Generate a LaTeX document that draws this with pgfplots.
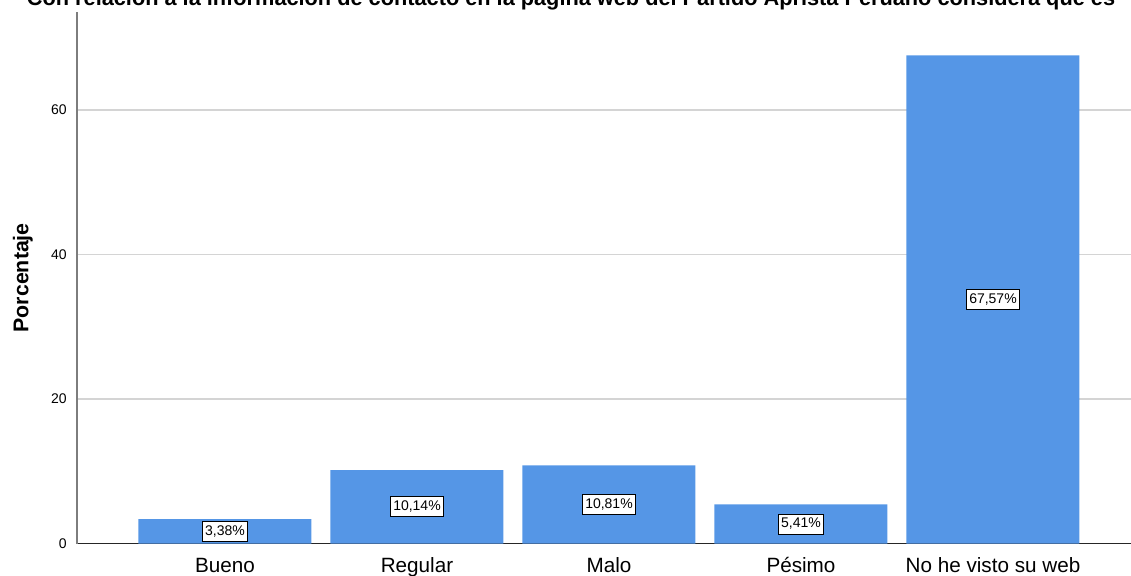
\documentclass[border=0pt]{standalone}
\usepackage{pgfplots}
\pgfplotsset{compat=1.18}
\usepackage{pgfplotstable}
\usepackage{fontspec}
\setmainfont{Liberation Sans}
\definecolor{barblue}{RGB}{85,150,230}
\definecolor{gridgray}{RGB}{212,212,212}
\definecolor{axisgray}{RGB}{125,125,125}
\pgfplotstableread{
x y
0 3.38
1 10.14
2 10.81
3 5.41
4 67.57
}\datatable
\begin{document}
\begin{tikzpicture}
\path[use as bounding box] (-57.75pt,-23.625pt) rectangle (790.5pt,407.625pt);
\clip (-57.75pt,-23.625pt) rectangle (790.5pt,407.625pt);
\begin{axis}[
  at={(0pt,0pt)}, anchor=south west,
  scale only axis, width=790.5pt, height=398.625pt,
  xmin=-0.7708, xmax=4.7188, ymin=0, ymax=73.56,
  axis x line*=bottom, axis y line*=left,
  axis line style={-},
  x axis line style={black!85, line width=0.9pt},
  y axis line style={axisgray, line width=1.1pt},
  ytick={0,20,40,60}, ymajorgrids,
  grid style={gridgray, line width=1pt},
  major tick length=0pt,
  xtick={0,1,2,3,4},
  xticklabels={Bueno,Regular,Malo,Pésimo,No he visto su web},
  xticklabel style={font=\fontsize{15.5}{18}\selectfont, anchor=base, inner sep=0pt, yshift=-21.4pt},
  yticklabel style={font=\fontsize{10.5}{12}\selectfont, anchor=east, inner sep=0pt, xshift=-7.5pt},
  /pgf/number format/assume math mode=true,
  ylabel={Porcentaje},
  ylabel style={font=\bfseries\fontsize{16}{19}\selectfont, at={(axis description cs:-0.0461,0.5)}, anchor=base},
  every axis title shift=0pt,
  title={Con relación a la información de contacto en la página web del Partido Aprista Peruano considera que es},
  title style={font=\bfseries\fontsize{16.3}{19}\selectfont, at={(axis description cs:0.4687,1.0117)}, anchor=base, inner sep=0pt},
]
\addplot[ybar, bar width=129.75pt, fill=barblue, draw=none] table[x=x,y=y] {\datatable};
\addplot[draw=none, mark=none, y filter/.expression={y/2}, point meta=explicit,
  nodes near coords={\pgfmathprintnumber[fixed,fixed zerofill,precision=2,use comma]{\pgfplotspointmeta}\%},
  nodes near coords style={anchor=center, fill=white, draw=black, line width=0.6pt, font=\fontsize{10.5}{12}\selectfont, inner xsep=2pt, inner ysep=2.5pt, text height=7.8pt, text depth=2.2pt}]
  table[x=x,y=y,meta=y] {\datatable};
\end{axis}
\end{tikzpicture}
\end{document}
